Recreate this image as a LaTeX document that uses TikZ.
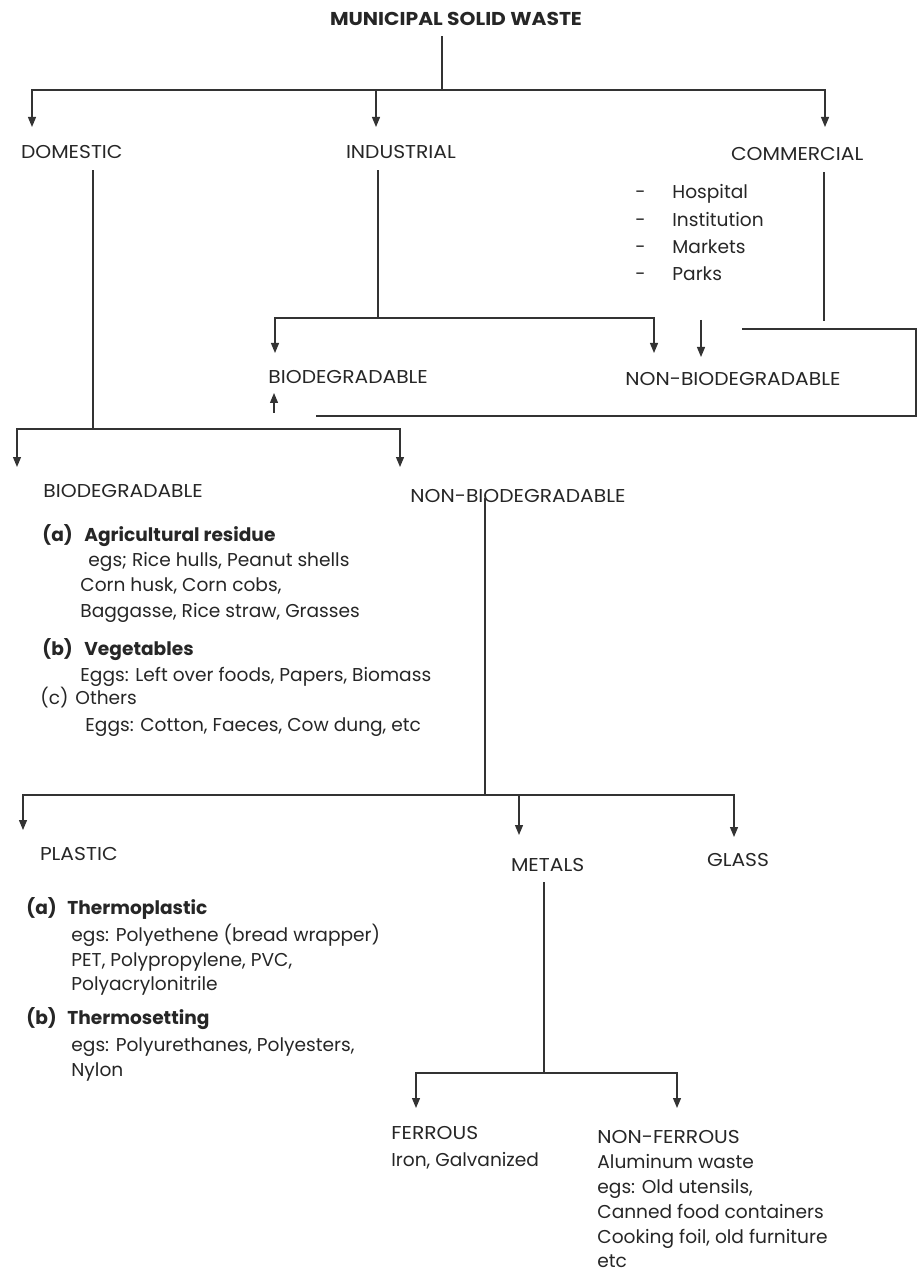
\documentclass[tikz,border=0pt]{standalone}
\usepackage{fontspec}
\setmainfont{Poppins}
\newfontfamily\capsfont{Poppins}[FakeStretch=1.09]
\usepackage{tikz}
\usetikzlibrary{arrows.meta,calc}

\begin{document}
\begin{tikzpicture}[
    x=0.5pt, y=-0.5pt,
    lbl/.style={anchor=base west, inner sep=0pt, font=\fontsize{9.3}{11}\selectfont, text=black!85},
    caps/.style={lbl, font=\fontsize{9.3}{11}\capsfont},
    head/.style={caps, outer sep=5.5pt},
    bold/.style={lbl, font=\fontsize{9.3}{11}\selectfont\bfseries},
    link/.style={line width=0.6pt, draw=black!80},
    arr/.style={link, -{Triangle[length=5pt, width=4pt]}}
]
\useasboundingbox (0,0) rectangle (917,1272);

% Top level
\node[caps, font=\fontsize{9.3}{11}\capsfont\bfseries, anchor=base, outer sep=5pt] (msw) at (456,26) {MUNICIPAL SOLID WASTE};
\node[head] (dom) at (10,159) {DOMESTIC};
\node[head] (ind) at (335,159) {INDUSTRIAL};
\node[head] (com) at (720,161) {COMMERCIAL};

\coordinate (j0) at (442,90);
\coordinate (tDom) at (32,127);
\coordinate (tInd) at (376,127);
\coordinate (tCom) at (825,127);
\draw[link] (msw.south -| j0) -- (j0);
\draw[arr] (j0) -| (tDom);
\draw[arr] (j0) -| (tInd);
\draw[arr] (j0) -| (tCom);

% Commercial sources
\node[lbl] (d1) at (635,199) {-};
\node[lbl] (hosp) at (672,199) {Hospital};
\node[lbl] (d2) at (635,227) {-};
\node[lbl] (inst) at (672,227) {Institution};
\node[lbl] (d3) at (635,254) {-};
\node[lbl] (mark) at (672,254) {Markets};
\node[lbl] (d4) at (635,281) {-};
\node[lbl] (park) at (672,281) {Parks};

% Industrial split
\node[caps] (indBio) at (268,384) {BIODEGRADABLE};
\node[caps] (indNon) at (625,386) {NON-BIODEGRADABLE};

\coordinate (j2) at (378,318);
\coordinate (tIB) at (275,353);
\coordinate (tIN) at (654,353);
\draw[link] (ind.south -| j2) -- (j2);
\draw[arr] (j2) -| (tIB);
\draw[arr] (j2) -| (tIN);

\coordinate (cEnd) at (824,321);
\draw[link] (com.south -| cEnd) -- (cEnd);
\coordinate (xTop) at (701,320);
\coordinate (xTip) at (701,357);
\draw[arr] (xTop) -- (xTip);

\coordinate (bA) at (742,329);
\coordinate (bB) at (916,416);
\coordinate (bC) at (316,416);
\draw[link] (bA) -| (bB) -- (bC);
\coordinate (uB) at (274,413);
\coordinate (uT) at (274,393);
\draw[arr] (uB) -- (uT);

% Domestic split
\node[caps] (domBio) at (43,497) {BIODEGRADABLE};
\node[caps] (domNon) at (410,502) {NON-BIODEGRADABLE};

\coordinate (j1) at (93,429);
\coordinate (tDB) at (17,467);
\coordinate (tDN) at (400,467);
\draw[link] (dom.south -| j1) -- (j1);
\draw[arr] (j1) -| (tDB);
\draw[arr] (j1) -| (tDN);

% Biodegradable examples
\node[bold] (ba) at (42,541) {(a)};
\node[bold] (agri) at (84,541) {Agricultural residue};
\node[lbl] (agri1) at (88,566) {egs; Rice hulls, Peanut shells};
\node[lbl] (agri2) at (80,591) {Corn husk, Corn cobs,};
\node[lbl] (agri3) at (80,617) {Baggasse, Rice straw, Grasses};
\node[bold] (bb) at (42,655) {(b)};
\node[bold] (veg) at (84,655) {Vegetables};
\node[lbl] (veg1) at (80,681) {Eggs: Left over foods, Papers, Biomass};
\node[lbl] (bc) at (40,704) {(c)};
\node[lbl] (oth) at (75,704) {Others};
\node[lbl] (oth1) at (85,731) {Eggs: Cotton, Faeces, Cow dung, etc};

% Non-biodegradable split
\node[head] (pla) at (29,860) {PLASTIC};
\node[head] (met) at (500,871) {METALS};
\node[head] (gla) at (696,866) {GLASS};

\coordinate (j4) at (485,795);
\coordinate (tPl) at (23,830);
\coordinate (tMe) at (519,835);
\coordinate (tGl) at (734,837);
\draw[link] ($(domNon.base -| j4)+(0,-4)$) -- (j4);
\draw[arr] (j4) -| (tPl);
\draw[arr] (j4) -| (tMe);
\draw[arr] (j4) -| (tGl);

% Plastic examples
\node[bold] (pa) at (26,914) {(a)};
\node[bold] (thp) at (67,914) {Thermoplastic};
\node[lbl] (thp1) at (71,941) {egs: Polyethene (bread wrapper)};
\node[lbl] (thp2) at (71,966) {PET, Polypropylene, PVC,};
\node[lbl] (thp3) at (71,990) {Polyacrylonitrile};
\node[bold] (pb) at (26,1024) {(b)};
\node[bold] (ths) at (67,1024) {Thermosetting};
\node[lbl] (ths1) at (71,1051) {egs: Polyurethanes, Polyesters,};
\node[lbl] (ths2) at (71,1076) {Nylon};

% Metals split
\node[caps] (fer) at (391,1139) {FERROUS};
\node[lbl] (fer1) at (391,1166) {Iron, Galvanized};
\node[caps] (nfe) at (597,1143) {NON-FERROUS};
\node[lbl] (nfe1) at (597,1168) {Aluminum waste};
\node[lbl] (nfe2) at (597,1193) {egs: Old utensils,};
\node[lbl] (nfe3) at (597,1218) {Canned food containers};
\node[lbl] (nfe4) at (597,1243) {Cooking foil, old furniture};
\node[lbl] (nfe5) at (597,1267) {etc};

\coordinate (j5) at (544,1073);
\coordinate (tFe) at (416,1108);
\coordinate (tNf) at (677,1108);
\draw[link] (met.south -| j5) -- (j5);
\draw[arr] (j5) -| (tFe);
\draw[arr] (j5) -| (tNf);
\end{tikzpicture}
\end{document}
